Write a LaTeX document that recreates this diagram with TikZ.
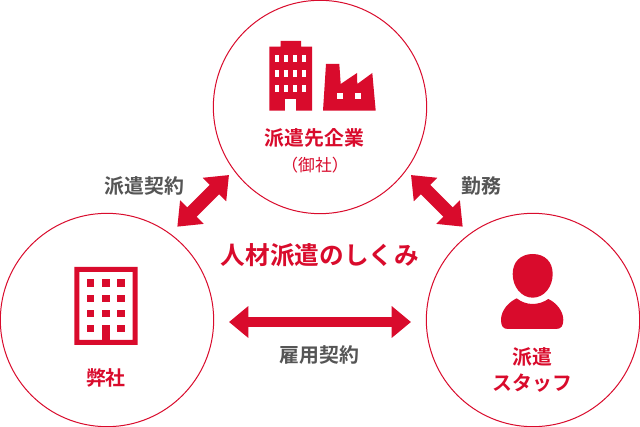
\documentclass[tikz,border=0pt]{standalone}
\usepackage{fontspec}
\usetikzlibrary{arrows.meta}
\newfontfamily\jpb{Noto Sans CJK JP Bold}
\newfontfamily\jpr{Noto Sans CJK JP}
\definecolor{brand}{HTML}{D90B2C}
\definecolor{txtgray}{HTML}{555555}
\tikzset{
  partner/.style={circle,draw=brand,line width=0.75pt,minimum size=160pt,inner sep=0pt,fill=white},
  redlabel/.style={text=brand,font=\jpb\fontsize{14.9pt}{18pt}\selectfont,align=center,inner sep=0pt},
  graylabel/.style={text=txtgray,font=\jpb\fontsize{14.9pt}{18pt}\selectfont,inner sep=0pt},
  titlelabel/.style={text=brand,font=\jpb\fontsize{18.5pt}{22pt}\selectfont,inner sep=0pt},
  sublabel/.style={text=brand,font=\jpr\fontsize{12.6pt}{14pt}\selectfont,inner sep=0pt},
  biarrow/.style={draw=brand,line width=7.8pt,{Triangle[length=14.5pt,width=23pt]}-{Triangle[length=14.5pt,width=23pt]}},
  diagarrow/.style={draw=brand,line width=10pt,{Triangle[length=15.5pt,width=24pt]}-{Triangle[length=15.5pt,width=24pt]}},
  iconfill/.style={fill=brand,draw=none},
  hole/.style={fill=white,draw=none},
}
\begin{document}
\begin{tikzpicture}[x=0.75pt,y=-0.75pt]
\useasboundingbox (0,0) rectangle (640,427);
\fill[white] (0,0) rectangle (640,427);
% circles
\node[partner] (client) at (320,107) {};
\node[partner] (us) at (107,320) {};
\node[partner] (staff) at (533,320) {};
% building icon (top)
\fill[iconfill] (269.3,110.7) -- (269.3,46.7) -- (280.7,46.7) -- (280.7,41) -- (301,41) -- (301,46.7) -- (312,46.7) -- (312,110.7) -- cycle;
\foreach \wy in {55,69.7,84.7}{
  \foreach \wx in {275,284,293,302}{
    \fill[hole] (\wx,\wy) rectangle ++(4.3,7);
  }
}
\fill[hole] (285,99.3) rectangle (296.3,110.7);
% factory icon
\fill[iconfill] (323,110.7) -- (326,64) -- (339.3,64) -- (340.7,84) -- (357,73) -- (357.3,84) -- (372.3,73) -- (375.7,110.7) -- cycle;
\fill[hole] (337,92.7) rectangle (343,98.7);
\fill[hole] (355,92.7) rectangle (361,98.7);
% office icon (left)
\fill[iconfill,even odd rule] (74.3,267) rectangle (137.7,345) (79.3,272) rectangle (132.7,340);
\foreach \wy in {279.3,294.7,309.7}{
  \foreach \wx in {86.7,102,117}{
    \fill[iconfill] (\wx,\wy) rectangle ++(7.7,7.7);
  }
}
\fill[iconfill] (86.7,324.7) rectangle ++(7.7,7.7);
\fill[iconfill] (117,324.7) rectangle ++(7.7,7.7);
\fill[iconfill] (102,324.7) rectangle (109.7,340);
% person icon
\fill[iconfill] (532.7,254) .. controls (545,254) and (552.7,262) .. (552.7,274) .. controls (552.7,287) and (544,297.7) .. (532.7,297.7) .. controls (521.4,297.7) and (512.7,287) .. (512.7,274) .. controls (512.7,262) and (520.4,254) .. (532.7,254) -- cycle;
\fill[iconfill] (516.7,298.3) .. controls (521,302) and (527,304) .. (532.7,304) .. controls (538.4,304) and (544,302) .. (548.3,299) .. controls (555,302) and (563.3,310) .. (563.3,320) .. controls (563.3,326) and (561,329) .. (556,329) -- (508,329) .. controls (503,329) and (501,326) .. (501,320) .. controls (501,310) and (509,302) .. (516.7,298.3) -- cycle;
% connectors
\coordinate (a1) at (177.3,226.7);
\coordinate (a2) at (229,175);
\coordinate (b1) at (411,175);
\coordinate (b2) at (462.7,226.7);
\coordinate (c1) at (229,322);
\coordinate (c2) at (411,322);
\draw[diagarrow] (a1) -- (a2);
\draw[diagarrow] (b1) -- (b2);
\draw[biarrow] (c1) -- (c2);
% labels
\node[redlabel] (clientname) at (314.5,137.5) {派遣先企業};
\node[sublabel] (clientsub) at (315,165.5) {（御社）};
\node[graylabel] (contract1) at (144.5,186) {派遣契約};
\node[graylabel] (work) at (481,186) {勤務};
\node[titlelabel] (title) at (320,255) {人材派遣のしくみ};
\node[graylabel] (contract2) at (319.5,355) {雇用契約};
\node[redlabel] (usname) at (106,378) {弊社};
\node[redlabel] (staffname) at (532.5,369.5) {派遣\\[1.5pt]スタッフ};
\end{tikzpicture}
\end{document}
